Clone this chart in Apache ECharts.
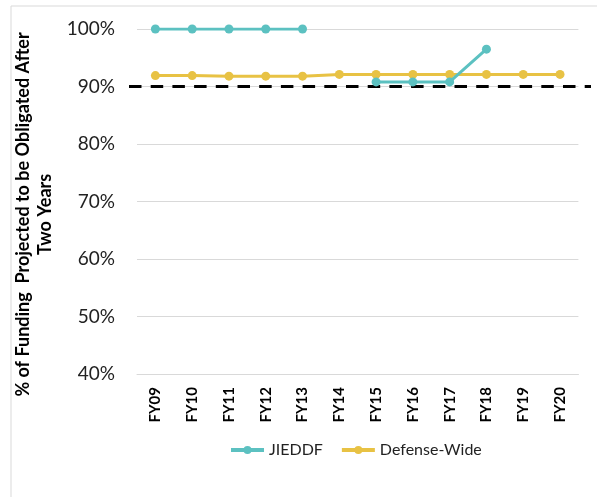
<!DOCTYPE html>
<html>
<head>
<meta charset="utf-8">
<script src="https://cdn.jsdelivr.net/npm/echarts@6/dist/echarts.min.js"></script>
<style>
  html, body { margin: 0; padding: 0; background: #fff; }
  #chart { width: 597px; height: 497px; }
</style>
</head>
<body>
<div id="chart"></div>
<script>
// Fiscal years on the category axis
const years = ['FY09', 'FY10', 'FY11', 'FY12', 'FY13', 'FY14', 'FY15', 'FY16', 'FY17', 'FY18', 'FY19', 'FY20'];

// Share of funding projected to be obligated after two years (%)
const jieddf = [100, 100, 100, 100, 100, null, 90.8, 90.8, 90.8, 96.5, null, null];
const defenseWide = [91.9, 91.9, 91.8, 91.8, 91.8, 92.1, 92.1, 92.1, 92.1, 92.1, 92.1, 92.1];

// Obligation target drawn as a dashed reference line
const targetPct = 90;

// Y axis range and step (%)
const yMin = 40, yMax = 100, yStep = 10;

const TEAL = '#5cc1c1';
const GOLD = '#e8c244';
const FONT = 'Lato, "Open Sans", sans-serif';

const chart = echarts.init(document.getElementById('chart'), null, { renderer: 'canvas' });

chart.setOption({
  animation: false,
  backgroundColor: '#fff',
  textStyle: { fontFamily: FONT },
  graphic: [
    { type: 'line', shape: { x1: 11, y1: 6, x2: 597, y2: 6 }, style: { stroke: '#d9d9d9', lineWidth: 1 } },
    { type: 'line', shape: { x1: 11, y1: 6, x2: 11, y2: 497 }, style: { stroke: '#d9d9d9', lineWidth: 1 } }
  ],
  grid: [
    { left: 137, right: 18.6, top: 29, bottom: 123, outerBoundsMode: 'none', containLabel: false },
    { left: 129, right: 6, top: 29, bottom: 123, outerBoundsMode: 'none', containLabel: false }
  ],
  legend: {
    left: 224,
    top: 437,
    itemWidth: 33,
    itemHeight: 10,
    itemGap: 17,
    lineStyle: { width: 4 },
    textStyle: { fontSize: 16, color: '#222', fontFamily: FONT },
    data: ['JIEDDF', 'Defense-Wide']
  },
  xAxis: [
    {
      type: 'category',
      gridIndex: 0,
      data: years,
      axisLine: { show: true, lineStyle: { color: '#d9d9d9', width: 1 } },
      axisTick: { show: false },
      axisLabel: {
        rotate: 90,
        margin: 13,
        fontSize: 15,
        fontWeight: 'bold',
        color: '#000',
        fontFamily: FONT
      }
    },
    { type: 'value', gridIndex: 1, min: 0, max: 1, show: false }
  ],
  yAxis: [
    {
      type: 'value',
      gridIndex: 0,
      min: yMin,
      max: yMax,
      interval: yStep,
      axisLine: { show: false },
      axisTick: { show: false },
      splitLine: { lineStyle: { color: '#d9d9d9', width: 1 } },
      axisLabel: {
        margin: 22,
        fontSize: 19,
        color: '#222',
        fontFamily: FONT,
        formatter: v => v + '%'
      },
      name: '% of Funding  Projected to be Obligated After\nTwo Years',
      nameLocation: 'middle',
      nameGap: 77,
      nameTextStyle: {
        fontSize: 18,
        fontWeight: 'bold',
        color: '#000',
        lineHeight: 22,
        fontFamily: FONT,
        padding: [0, 0, 0, -26]
      }
    },
    { type: 'value', gridIndex: 1, min: yMin, max: yMax, show: false }
  ],
  series: [
    {
      name: 'target',
      type: 'line',
      xAxisIndex: 1,
      yAxisIndex: 1,
      data: [[0, targetPct], [1, targetPct]],
      symbol: 'none',
      lineStyle: { color: '#000', width: 3, type: [12.5, 9.2] },
      z: 1,
      silent: true
    },
    {
      name: 'JIEDDF',
      type: 'line',
      data: jieddf,
      symbol: 'circle',
      symbolSize: 9,
      color: TEAL,
      lineStyle: { width: 3, color: TEAL },
      itemStyle: { color: TEAL },
      connectNulls: false,
      z: 3
    },
    {
      name: 'Defense-Wide',
      type: 'line',
      data: defenseWide,
      symbol: 'circle',
      symbolSize: 9,
      color: GOLD,
      lineStyle: { width: 3, color: GOLD },
      itemStyle: { color: GOLD },
      z: 2
    }
  ]
});
</script>
</body>
</html>
